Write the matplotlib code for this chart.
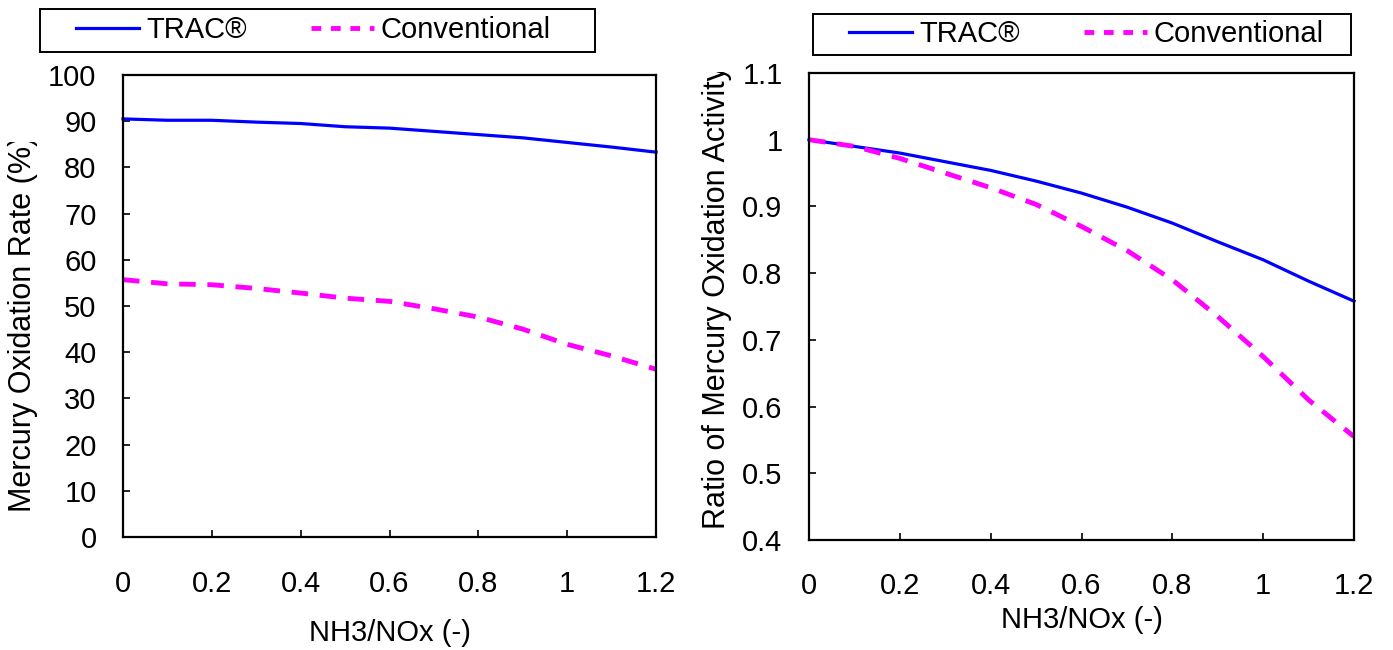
import matplotlib
matplotlib.use("Agg")
import matplotlib.pyplot as plt
from matplotlib.patches import Rectangle
from matplotlib.transforms import Bbox, TransformedBbox
from matplotlib.lines import Line2D

plt.rcParams['font.family'] = ['Liberation Sans', 'DejaVu Sans']

# NH3/NOx ratio
nh3_nox = [0.0, 0.1, 0.2, 0.3, 0.4, 0.5, 0.6, 0.7, 0.8, 0.9, 1.0, 1.1, 1.2]

# left panel: mercury oxidation rate (%)
rate_trac = [90.5, 90.2, 90.2, 89.8, 89.5, 88.8, 88.5, 87.8, 87.1, 86.4, 85.4, 84.4, 83.3]
rate_conv = [55.7, 54.8, 54.6, 53.8, 52.8, 51.7, 51.0, 49.4, 47.6, 45.0, 41.7, 39.2, 36.3]

# right panel: ratio of mercury oxidation activity
ratio_trac = [1.0, 0.99, 0.98, 0.967, 0.954, 0.938, 0.92, 0.899, 0.875, 0.847, 0.82, 0.788, 0.758]
ratio_conv = [1.0, 0.99, 0.972, 0.95, 0.928, 0.903, 0.87, 0.834, 0.79, 0.735, 0.675, 0.61, 0.555]

x_ticks = [0, 0.2, 0.4, 0.6, 0.8, 1.0, 1.2]
x_ticklabels = ['0', '0.2', '0.4', '0.6', '0.8', '1', '1.2']
left_yticks = [0, 10, 20, 30, 40, 50, 60, 70, 80, 90, 100]
right_yticks = [0.4, 0.5, 0.6, 0.7, 0.8, 0.9, 1.0, 1.1]
right_yticklabels = ['0.4', '0.5', '0.6', '0.7', '0.8', '0.9', '1', '1.1']

series_names = ['TRAC®', 'Conventional']
BLUE = '#0000ff'
MAGENTA = '#ff00ff'
W, H = 1393, 650

fig = plt.figure(figsize=(W / 100, H / 100), dpi=100)


def px_rect(x0, y0, x1, y1):
    # pixel box (top-left origin) -> figure fraction [left, bottom, width, height]
    return [x0 / W, 1 - y1 / H, (x1 - x0) / W, (y1 - y0) / H]


def style_axes(ax, xpad, ypad):
    for s in ax.spines.values():
        s.set_linewidth(1.6)
        s.set_color('black')
    ax.tick_params(direction='in', length=5, width=1.2, labelsize=21)
    ax.tick_params(axis='x', pad=xpad, top=False)
    ax.tick_params(axis='y', pad=ypad, right=False)
    ax.set_xlim(0, 1.2)
    ax.set_xticks(x_ticks)
    ax.set_xticklabels(x_ticklabels)


def draw_lines(ax, y1, y2):
    ax.plot(nh3_nox, y1, color=BLUE, lw=2.3, clip_on=False)
    ax.plot(nh3_nox, y2, color=MAGENTA, lw=3.5, dashes=(3.4, 2.4), clip_on=False)


def boxed_legend(x0, y0, x1, y1, handle_x):
    fig.patches.append(Rectangle((x0 / W, 1 - y1 / H), (x1 - x0) / W, (y1 - y0) / H,
                                 transform=fig.transFigure, fill=False,
                                 edgecolor='black', lw=1.4))
    handles = [Line2D([], [], color=BLUE, lw=2.3),
               Line2D([], [], color=MAGENTA, lw=3.5, dashes=(2.0, 2.0))]
    fig.legend(handles, series_names, loc='center left', ncol=2,
               bbox_to_anchor=(handle_x / W, 1 - (y0 + y1) / 2 / H),
               frameon=False, fontsize=21, handlelength=2.15,
               handletextpad=0.25, columnspacing=2.2, borderpad=0, borderaxespad=0)


def clipped_ylabel(text, x, y_bottom, clip_top):
    t = fig.text(x / W, 1 - y_bottom / H, text, rotation=90, ha='center', va='bottom',
                 fontsize=22)
    t.set_clip_box(TransformedBbox(Bbox([[0, 0], [1, 1 - clip_top / H]]), fig.transFigure))
    t.set_clip_on(True)


# left panel
ax1 = fig.add_axes(px_rect(123, 75, 656, 537))
draw_lines(ax1, rate_trac, rate_conv)
ax1.set_ylim(0, 100)
ax1.set_yticks(left_yticks)
style_axes(ax1, xpad=24, ypad=19)
ax1.set_xlabel('NH3/NOx (-)', fontsize=21)
ax1.xaxis.set_label_coords(0.5, (537 - 633) / 462)
ax1.xaxis.label.set_va('center')
clipped_ylabel('Mercury Oxidation Rate (%)', 23, 512, 142)
boxed_legend(40, 9, 595, 52, 76)

# right panel
ax2 = fig.add_axes(px_rect(809, 73, 1354, 540))
draw_lines(ax2, ratio_trac, ratio_conv)
ax2.set_ylim(0.4, 1.1)
ax2.set_yticks(right_yticks)
ax2.set_yticklabels(right_yticklabels)
style_axes(ax2, xpad=23, ypad=19)
ax2.set_xlabel('NH3/NOx (-)', fontsize=21)
ax2.xaxis.set_label_coords(0.5, (540 - 620) / 467)
ax2.xaxis.label.set_va('center')
clipped_ylabel('Ratio of Mercury Oxidation Activity', 717, 529, 72)
boxed_legend(813, 14, 1351, 55, 849)

fig.savefig('out.png', dpi=100)
